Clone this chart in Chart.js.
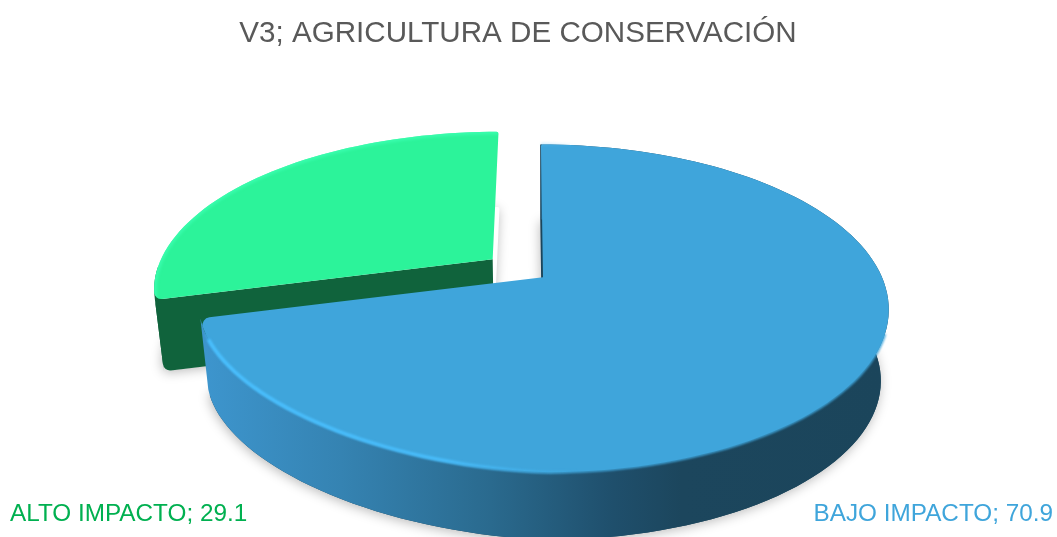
<!DOCTYPE html>
<html>
<head>
<meta charset="utf-8">
<title>V3; AGRICULTURA DE CONSERVACIÓN</title>
<script src="https://cdn.jsdelivr.net/npm/chart.js@4"></script>
<style>
    html, body { margin: 0; padding: 0; background: #fff; }
    canvas { display: block; }
</style>
</head>
<body>
<canvas id="pieChart" width="1057" height="537"></canvas>
<script>
const chartTitle = "V3; AGRICULTURA DE CONSERVACIÓN";
const sliceLabels = ["BAJO IMPACTO", "ALTO IMPACTO"];
const sliceValues = [70.9, 29.1];

const TOP_COLORS = ["#3FA5DB", "#2CF39A"];
const LABEL_COLORS = ["#3FA5DB", "#00B050"];
const FONT = '"Liberation Sans", Arial, sans-serif';

// perspective of the tilted disc: px per disc radius, vanishing point left of the pie centre
const VIEW = { shiftX: 25, vanishX: -13, sx: 339, sy: 158, k: 0.19, sagX: 5, sagY: 22 };
// the underside of the disc: shrunk a little and pushed down
const DEPTH = { drop: 72, shrink: 0.977 };

function project(el, u, v, lower) {
    const cx = el.x + VIEW.shiftX, cy = el.y;
    const w = 1 - VIEW.k * v;
    // front-left of the disc pulls in slightly
    const left = Math.min(u, 0);
    let x = cx + VIEW.vanishX + (VIEW.sx * u - VIEW.vanishX) / w - VIEW.sagX * left * Math.max(v, 0);
    let y = cy + (VIEW.sy * v) / w + VIEW.sagY * left * Math.max(v - 0.2, 0);
    if (lower) {
        x = cx + (x - cx) * DEPTH.shrink;
        y = cy + (y - cy) * DEPTH.shrink + DEPTH.drop;
    }
    return { x, y };
}

// apex and rim of one slice, taken from the arc element's own geometry
function sliceGeometry(el) {
    const mid = (el.startAngle + el.endAngle) / 2;
    const off = el.options.offset / el.outerRadius;
    const ox = Math.cos(mid) * off, oy = Math.sin(mid) * off;
    const steps = Math.ceil((el.endAngle - el.startAngle) / (Math.PI / 90));
    const rim = [];
    for (let i = 0; i <= steps; i++) {
        const a = el.startAngle + (el.endAngle - el.startAngle) * i / steps;
        rim.push([ox + Math.cos(a), oy + Math.sin(a)]);
    }
    return { apex: [ox, oy], rim };
}

function trace(ctx, pts, corners) {
    // corners: index -> radius of a rounded vertex
    ctx.beginPath();
    const n = pts.length;
    ctx.moveTo((pts[0].x + pts[n - 1].x) / 2, (pts[0].y + pts[n - 1].y) / 2);
    for (let i = 0; i < n; i++) {
        const p = pts[i], q = pts[(i + 1) % n];
        if (corners && corners[i]) ctx.arcTo(p.x, p.y, q.x, q.y, corners[i]);
        else ctx.lineTo(p.x, p.y);
    }
    ctx.closePath();
}

function polyline(ctx, pts) {
    ctx.beginPath();
    pts.forEach((p, i) => i ? ctx.lineTo(p.x, p.y) : ctx.moveTo(p.x, p.y));
}

function outline(el, geo, lower) {
    const pts = [project(el, geo.apex[0], geo.apex[1], lower)];
    geo.rim.forEach(r => pts.push(project(el, r[0], r[1], lower)));
    return pts;
}

function sideGradient(ctx) {
    const g = ctx.createLinearGradient(205, 0, 885, 0);
    g.addColorStop(0, "#3D95CD");
    g.addColorStop(0.2, "#3583B2");
    g.addColorStop(0.42, "#2A6A8E");
    g.addColorStop(0.6, "#1F4F6C");
    g.addColorStop(0.7, "#1C465D");
    g.addColorStop(1, "#1B455B");
    return g;
}

function rimGradient(ctx) {
    const g = ctx.createLinearGradient(205, 0, 885, 0);
    g.addColorStop(0, "rgba(74,192,255,1)");
    g.addColorStop(0.35, "rgba(74,192,255,0.9)");
    g.addColorStop(0.55, "rgba(74,192,255,0)");
    g.addColorStop(1, "rgba(74,192,255,0)");
    return g;
}

function drawSlice(ctx, el, index) {
    const geo = sliceGeometry(el);
    const top = outline(el, geo, false);
    const low = outline(el, geo, true);
    const last = top.length - 1;
    const isBlue = index === 0;
    const corners = isBlue ? { 1: 2, [last]: 8 } : { 1: 7, [last]: 2 };
    const cutFill = isBlue ? "#1B455B" : "#10633C";

    // soft shadow round the underside
    ctx.save();
    ctx.shadowColor = "rgba(0,0,0,0.28)";
    ctx.shadowBlur = 12;
    ctx.shadowOffsetX = -1;
    ctx.shadowOffsetY = 2;
    ctx.fillStyle = isBlue ? cutFill : "#fff";
    trace(ctx, low, corners);
    ctx.fill();
    ctx.restore();

    // rim start is the 12 o'clock edge on blue, the long visible edge on green
    const cutFace = [top[0], top[1], low[1], low[0]];

    if (isBlue) {
        // cut face behind the disc shows as a hairline in the notch
        ctx.fillStyle = cutFill;
        ctx.strokeStyle = cutFill;
        ctx.lineWidth = 1.5;
        trace(ctx, cutFace);
        ctx.fill();
        ctx.stroke();

        ctx.fillStyle = sideGradient(ctx);
        trace(ctx, top.slice(1).concat(low.slice(1).reverse()));
        ctx.fill();

        // soft edge where the top face meets the dark wall
        ctx.save();
        ctx.filter = "blur(1px)";
        ctx.strokeStyle = el.options.backgroundColor;
        ctx.lineWidth = 2.5;
        polyline(ctx, top.slice(56, last - 2));
        ctx.stroke();
        ctx.restore();
    } else {
        // only the first few degrees of the outer wall face the viewer
        ctx.fillStyle = cutFill;
        trace(ctx, top.slice(1, 8).concat(low.slice(1, 8).reverse()));
        ctx.fill();
        trace(ctx, cutFace, { 1: 5, 2: 7 });
        ctx.fill();
    }

    // top face
    ctx.fillStyle = el.options.backgroundColor;
    trace(ctx, top, corners);
    ctx.fill();

    // bevel along the rim
    ctx.save();
    if (isBlue) {
        ctx.filter = "blur(1.3px)";
        ctx.lineWidth = 3.5;
        ctx.strokeStyle = rimGradient(ctx);
        polyline(ctx, top.slice(1, last - 3));
    } else {
        trace(ctx, top, corners);
        ctx.clip();
        ctx.filter = "blur(1.5px)";
        ctx.lineWidth = 5;
        ctx.strokeStyle = "rgba(60,255,178,0.8)";
        polyline(ctx, top.slice(1));
    }
    ctx.stroke();
    ctx.restore();
}

const tiltedPie = {
    id: "tiltedPie",
    beforeDatasetDraw(chart, args) {
        const arcs = chart.getDatasetMeta(args.index).data;
        const ctx = chart.ctx;
        // back slice first so the large one sits over it
        [1, 0].forEach(i => drawSlice(ctx, arcs[i], i));
        return false;
    },
    afterDraw(chart) {
        const ctx = chart.ctx;
        ctx.save();
        ctx.font = "24.3px " + FONT;
        ctx.textBaseline = "alphabetic";
        ctx.fillStyle = LABEL_COLORS[1];
        ctx.textAlign = "left";
        ctx.fillText(sliceLabels[1] + "; " + sliceValues[1], 10, 521);
        ctx.fillStyle = LABEL_COLORS[0];
        ctx.textAlign = "right";
        ctx.fillText(sliceLabels[0] + "; " + sliceValues[0], 1053, 521);
        ctx.restore();
    }
};

new Chart(document.getElementById("pieChart"), {
    type: "pie",
    data: {
        labels: sliceLabels,
        datasets: [{
            data: sliceValues,
            backgroundColor: TOP_COLORS,
            borderWidth: 0,
            offset: [0, 32],
            radius: 168
        }]
    },
    options: {
        responsive: false,
        animation: false,
        layout: { padding: { right: 21, bottom: 44 } },
        plugins: {
            legend: { display: false },
            tooltip: { enabled: false },
            title: {
                display: true,
                text: chartTitle,
                color: "#595959",
                font: { family: FONT, size: 29.6, weight: "normal" },
                padding: { top: 16, bottom: 10 }
            }
        }
    },
    plugins: [tiltedPie]
});
</script>
</body>
</html>
